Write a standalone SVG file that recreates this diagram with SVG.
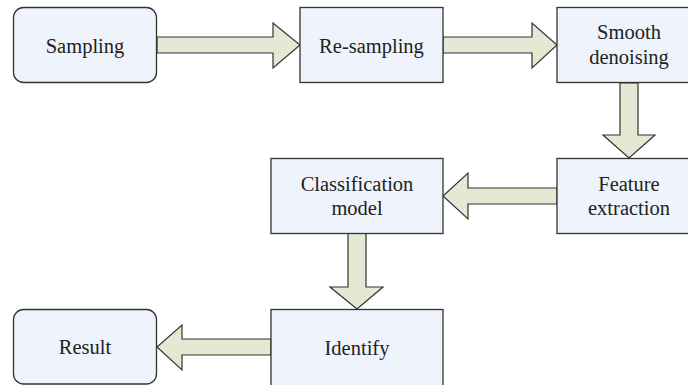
<svg xmlns="http://www.w3.org/2000/svg" width="688" height="385" viewBox="0 0 688 385">
<style>
.box{fill:#EFF3FC;stroke:#333;stroke-width:1.3}
.arr{fill:#E5E8D3;stroke:#333;stroke-width:1.2;stroke-linejoin:miter}
text{font-family:'Liberation Serif','Times New Roman',Times,'DejaVu Serif',serif;font-size:20.5px;fill:#222;text-anchor:middle}
</style>
<rect width="688" height="385" fill="#fff"/>
<g id="connectors">
<polygon class="arr" points="157,37 273,37 273,23 300,45 273,68 273,53 157,53"/>
<polygon class="arr" points="443,37 532,37 532,23 557,45 532,68 532,53 443,53"/>
<polygon class="arr" points="620,83 620,135 603,135 629,158 655,135 638,135 638,83"/>
<polygon class="arr" points="557,188 468,188 468,173 443,196 468,219 468,204 557,204"/>
<polygon class="arr" points="348,233 348,287 330,287 357,309 383,287 366,287 366,233"/>
<polygon class="arr" points="271,339 182,339 182,325 157,347 182,370 182,355 271,355"/>
</g>
<g id="sampling">
<rect class="box" x="13.5" y="7.5" width="143" height="75" rx="10"/>
<text x="85" y="53" font-family="Liberation Serif, serif">Sampling</text>
</g>
<g id="resampling">
<rect class="box" x="300" y="7.5" width="143" height="75"/>
<text x="371.5" y="53" font-family="Liberation Serif, serif">Re-sampling</text>
</g>
<g id="smooth">
<rect class="box" x="557" y="7.5" width="143" height="75"/>
<text x="629" y="39" font-family="Liberation Serif, serif">Smooth</text>
<text x="629" y="64" font-family="Liberation Serif, serif">denoising</text>
</g>
<g id="feature">
<rect class="box" x="557" y="158.5" width="143" height="75"/>
<text x="629" y="191" font-family="Liberation Serif, serif">Feature</text>
<text x="629" y="215" font-family="Liberation Serif, serif">extraction</text>
</g>
<g id="classification">
<rect class="box" x="271" y="158.5" width="172" height="75"/>
<text x="357" y="191" font-family="Liberation Serif, serif">Classification</text>
<text x="357" y="215" font-family="Liberation Serif, serif">model</text>
</g>
<g id="identify">
<rect class="box" x="271" y="309.5" width="172" height="80"/>
<text x="357" y="355" font-family="Liberation Serif, serif">Identify</text>
</g>
<g id="result">
<rect class="box" x="13.5" y="309.5" width="143" height="74.5" rx="10"/>
<text x="85" y="354" font-family="Liberation Serif, serif">Result</text>
</g>
</svg>
